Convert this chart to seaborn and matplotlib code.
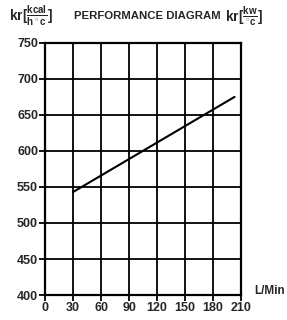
import matplotlib
matplotlib.use('Agg')
import matplotlib.pyplot as plt
import seaborn as sns
import pandas as pd

# data
flow = [30, 203]
capacity = [543, 675]
x_ticks = [0, 30, 60, 90, 120, 150, 180, 210]
y_ticks = [400, 450, 500, 550, 600, 650, 700, 750]

sns.set_style('white')
plt.rcParams['font.family'] = ['Liberation Sans', 'DejaVu Sans']
plt.rcParams['mathtext.fontset'] = 'custom'
plt.rcParams['mathtext.rm'] = 'Liberation Sans:bold'
plt.rcParams['mathtext.it'] = 'Liberation Sans:bold'

df = pd.DataFrame({'flow': flow, 'capacity': capacity})

fig = plt.figure(figsize=(2.87, 3.2), dpi=100)
ax = fig.add_axes([0.157, 0.078, 0.683, 0.788])

sns.lineplot(data=df, x='flow', y='capacity', ax=ax, color='black', linewidth=1.5)

ax.set_xlim(0, 210)
ax.set_ylim(400, 750)
ax.set_xticks(x_ticks)
ax.set_yticks(y_ticks)
ax.grid(True, color='black', linewidth=1.3)
for s in ax.spines.values():
    s.set_color('black')
    s.set_linewidth(1.6)
ax.tick_params(axis='both', labelsize=9, length=4, width=1.3, color='black',
               direction='out', pad=1)
for lab in ax.get_xticklabels() + ax.get_yticklabels():
    lab.set_fontweight('bold')
ax.tick_params(left=True, bottom=True)
ax.set_xlabel('')
ax.set_ylabel('')

fig.text(0.03, 0.935, r'kr$[\frac{kcal}{h^\circ c}]$', fontsize=10, fontweight='bold')
fig.text(0.258, 0.942, 'PERFORMANCE DIAGRAM', fontsize=8.2, fontweight='bold')
fig.text(0.785, 0.935, r'kr$[\frac{kw}{^\circ c}]$', fontsize=10, fontweight='bold')
fig.text(0.885, 0.08, 'L/Min', fontsize=8.5, fontweight='bold')

fig.savefig('out.png', dpi=100, facecolor='white')
